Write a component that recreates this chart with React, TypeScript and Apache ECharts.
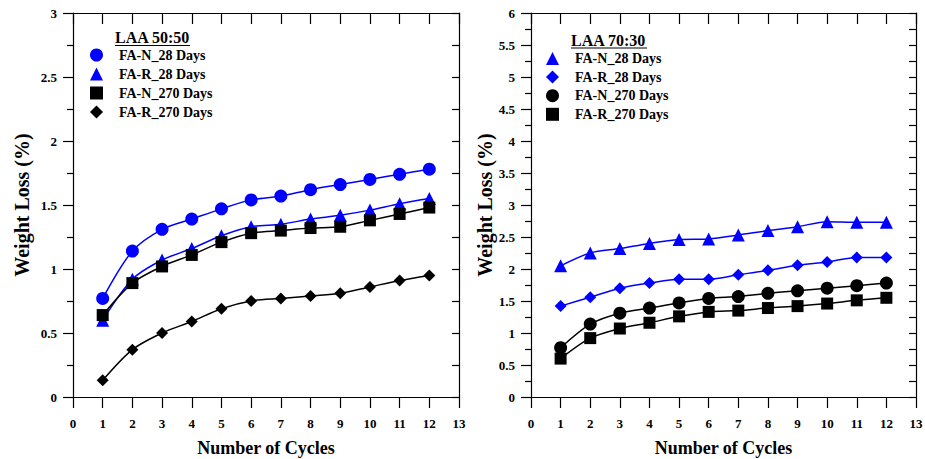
import React, { useEffect, useRef } from "react";
import * as echarts from "echarts";

const cycles = [1, 2, 3, 4, 5, 6, 7, 8, 9, 10, 11, 12];
const xTicks = [0, 13];

// Left panel: LAA 50:50
const left_FAN_28 = [0.77, 1.14, 1.31, 1.39, 1.47, 1.54, 1.57, 1.62, 1.66, 1.70, 1.74, 1.78];
const left_FAR_28 = [0.60, 0.92, 1.07, 1.16, 1.26, 1.33, 1.35, 1.39, 1.42, 1.46, 1.51, 1.55];
const left_FAN_270 = [0.64, 0.89, 1.02, 1.11, 1.21, 1.28, 1.30, 1.32, 1.33, 1.38, 1.43, 1.48];
const left_FAR_270 = [0.13, 0.37, 0.50, 0.59, 0.69, 0.75, 0.77, 0.79, 0.81, 0.86, 0.91, 0.95];

// Right panel: LAA 70:30
const right_FAN_28 = [2.05, 2.25, 2.32, 2.40, 2.46, 2.47, 2.53, 2.60, 2.66, 2.74, 2.73, 2.73];
const right_FAR_28 = [1.42, 1.56, 1.70, 1.78, 1.84, 1.84, 1.91, 1.98, 2.06, 2.11, 2.18, 2.18];
const right_FAN_270 = [0.77, 1.14, 1.31, 1.39, 1.47, 1.54, 1.57, 1.62, 1.66, 1.70, 1.74, 1.78];
const right_FAR_270 = [0.60, 0.92, 1.07, 1.16, 1.26, 1.33, 1.35, 1.39, 1.42, 1.46, 1.51, 1.55];

const labels = ["FA-N_28 Days", "FA-R_28 Days", "FA-N_270 Days", "FA-R_270 Days"];
const leftTitle = "LAA 50:50";
const rightTitle = "LAA 70:30";
const xName = "Number of Cycles";
const yName = "Weight Loss (%)";

const FONT = "'Liberation Serif', 'Times New Roman', serif";
const BLUE = "#0000ff";
const BLACK = "#000000";

const pair = (ys: number[]) => cycles.map((c, i) => [c, ys[i]]);

export default function App() {
  const ref = useRef<HTMLDivElement>(null);
  useEffect(() => {
    if (!ref.current) return;
    const chart = echarts.init(ref.current, null, { renderer: "svg" });

    const labelStyle = { color: BLACK, fontFamily: FONT, fontWeight: "bold" as const, fontSize: 13 };
    const xNameStyle = { color: BLACK, fontFamily: FONT, fontWeight: "bold" as const, fontSize: 18 };
    const yNameStyle = { color: BLACK, fontFamily: FONT, fontWeight: "bold" as const, fontSize: 20 };
    const line = { show: true, onZero: false, lineStyle: { color: BLACK, width: 1.2 } };

    const xAxisPair = (grid: number) => [
      {
        type: "value", gridIndex: grid, position: "bottom", min: xTicks[0], max: xTicks[1], interval: 1,
        axisLine: line, axisTick: { show: true, inside: false, length: 11, lineStyle: { color: BLACK, width: 1.2 } },
        axisLabel: { ...labelStyle, margin: 20 }, splitLine: { show: false },
        name: xName, nameLocation: "middle", nameGap: 42, nameTextStyle: xNameStyle,
      },
      {
        type: "value", gridIndex: grid, position: "top", min: xTicks[0], max: xTicks[1], interval: 1,
        axisLine: line, axisTick: { show: true, inside: true, length: 11, lineStyle: { color: BLACK, width: 1.2 } },
        axisLabel: { show: false }, splitLine: { show: false },
      },
    ];
    const yAxisPair = (grid: number, max: number, gap: number) => [
      {
        type: "value", gridIndex: grid, position: "left", min: 0, max, interval: 0.5,
        axisLine: line, axisTick: { show: true, inside: false, length: 10, lineStyle: { color: BLACK, width: 1.2 } },
        minorTick: { show: true, splitNumber: 2, length: 6, lineStyle: { color: BLACK, width: 1.2 } },
        axisLabel: { ...labelStyle, margin: 16 }, splitLine: { show: false },
        name: yName, nameLocation: "middle", nameGap: gap, nameRotate: 90, nameTextStyle: yNameStyle,
      },
      {
        type: "value", gridIndex: grid, position: "right", min: 0, max, interval: 0.5,
        axisLine: line, axisTick: { show: true, inside: true, length: 7, lineStyle: { color: BLACK, width: 1.2 } },
        minorTick: { show: true, splitNumber: 2, length: 7, lineStyle: { color: BLACK, width: 1.2 } },
        axisLabel: { show: false }, splitLine: { show: false },
      },
    ];

    const mk = (name: string, data: number[], grid: number, symbol: string, color: string, size: number) => ({
      type: "line", name, xAxisIndex: grid * 2, yAxisIndex: grid * 2, data: pair(data),
      smooth: 0.3, symbol, symbolSize: size, showSymbol: true,
      lineStyle: { color, width: 1.5 }, itemStyle: { color },
      z: 3,
    });

    const legendBase = {
      orient: "vertical", itemWidth: 13, itemHeight: 13, itemGap: 5, padding: 0,
      formatter: (n: string) => n.split("|")[1],
      textStyle: { color: BLACK, fontFamily: FONT, fontWeight: "bold", fontSize: 14, padding: [0, 0, 0, 11] },
      selectedMode: false,
    };

    chart.setOption({
      animation: false,
      backgroundColor: "#ffffff",
      grid: [
        { left: 73, top: 13, width: 386, height: 384, outerBoundsMode: "none", containLabel: false },
        { left: 531, top: 13, width: 385, height: 384, outerBoundsMode: "none", containLabel: false },
      ],
      xAxis: [...xAxisPair(0), ...xAxisPair(1)],
      yAxis: [...yAxisPair(0, 3, 41), ...yAxisPair(1, 6, 29)],
      legend: [
        {
          ...legendBase, left: 90, top: 48,
          data: [
            { name: "L|" + labels[0], icon: "circle" },
            { name: "L|" + labels[1], icon: "triangle" },
            { name: "L|" + labels[2], icon: "rect" },
            { name: "L|" + labels[3], icon: "diamond" },
          ],
        },
        {
          ...legendBase, left: 546, top: 51.5, itemGap: 4.6,
          data: [
            { name: "R|" + labels[0], icon: "triangle" },
            { name: "R|" + labels[1], icon: "diamond" },
            { name: "R|" + labels[2], icon: "circle" },
            { name: "R|" + labels[3], icon: "rect" },
          ],
        },
      ],
      graphic: [
        { type: "text", left: 115, top: 29, style: { text: leftTitle, fill: BLACK, font: `bold 16px ${FONT}` } },
        { type: "line", shape: { x1: 115, y1: 45.5, x2: 190, y2: 45.5 }, style: { stroke: BLACK, lineWidth: 1.2 } },
        { type: "text", left: 571, top: 32, style: { text: rightTitle, fill: BLACK, font: `bold 16px ${FONT}` } },
        { type: "line", shape: { x1: 571, y1: 48, x2: 647, y2: 48 }, style: { stroke: BLACK, lineWidth: 1.2 } },
      ],
      series: [
        mk("L|" + labels[0], left_FAN_28, 0, "circle", BLUE, 13),
        mk("L|" + labels[1], left_FAR_28, 0, "triangle", BLUE, 13),
        mk("L|" + labels[2], left_FAN_270, 0, "rect", BLACK, 12),
        mk("L|" + labels[3], left_FAR_270, 0, "diamond", BLACK, 12),
        mk("R|" + labels[0], right_FAN_28, 1, "triangle", BLUE, 13),
        mk("R|" + labels[1], right_FAR_28, 1, "diamond", BLUE, 12),
        mk("R|" + labels[2], right_FAN_270, 1, "circle", BLACK, 13),
        mk("R|" + labels[3], right_FAR_270, 1, "rect", BLACK, 12),
      ],
    });
    return () => chart.dispose();
  }, []);
  return <div ref={ref} style={{ width: 925, height: 459, position: "absolute", left: 0, top: 0 }} />;
}
